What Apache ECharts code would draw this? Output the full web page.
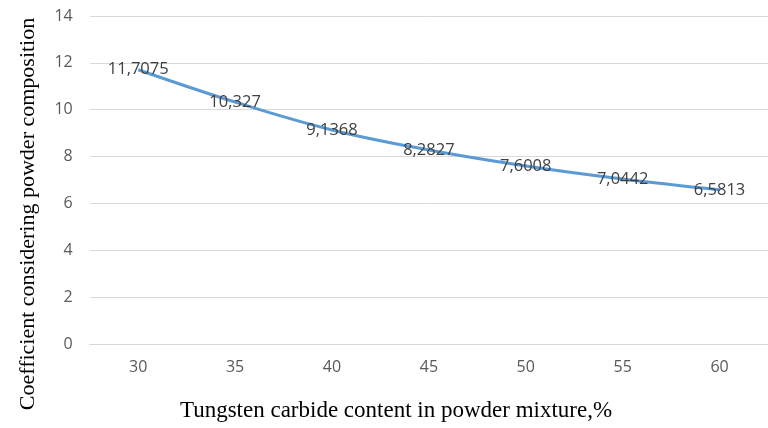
<!DOCTYPE html>
<html>
<head>
<meta charset="utf-8">
<script src="https://cdn.jsdelivr.net/npm/echarts@6/dist/echarts.min.js"></script>
<style>html,body{margin:0;padding:0;background:#fff}#c{width:768px;height:428px}</style>
</head>
<body>
<div id="c"></div>
<script>
var categories = ['30', '35', '40', '45', '50', '55', '60'];
var coefficient = [11.7075, 10.327, 9.1368, 8.2827, 7.6008, 7.0442, 6.5813];
var yTicks = { min: 0, max: 14, interval: 2 };
var xTitle = 'Tungsten carbide content in powder mixture,%';
var yTitle = 'Coefficient considering powder composition';

var chart = echarts.init(document.getElementById('c'), null, { renderer: 'canvas' });
chart.setOption({
  animation: false,
  backgroundColor: '#fff',
  grid: { left: 89.75, right: -11, top: 16, bottom: 84, containLabel: false },
  xAxis: {
    type: 'category',
    data: categories,
    boundaryGap: true,
    axisLine: { show: true, lineStyle: { color: '#d9d9d9', width: 1 } },
    axisTick: { show: false },
    axisLabel: { color: '#595959', fontSize: 16, fontFamily: 'Open Sans', margin: 15 }
  },
  yAxis: {
    type: 'value',
    min: yTicks.min, max: yTicks.max, interval: yTicks.interval,
    axisLine: { show: false },
    axisTick: { show: false },
    splitLine: { lineStyle: { color: '#d9d9d9', width: 1 } },
    axisLabel: { color: '#595959', fontSize: 16, fontFamily: 'Open Sans', margin: 17 }
  },
  series: [{
    type: 'line',
    data: coefficient,
    smooth: 0.4,
    showSymbol: true,
    symbol: 'circle',
    symbolSize: 2,
    itemStyle: { color: 'rgba(91,155,213,0)', borderWidth: 0 },
    lineStyle: { color: '#5B9BD5', width: 3 },
    label: {
      show: true,
      position: 'inside',
      offset: [-1, 2],
      color: '#404040',
      fontSize: 16.5,
      fontFamily: 'Open Sans',
      formatter: function (p) { return String(p.value).replace('.', ','); }
    },
    labelLayout: { hideOverlap: false },
    z: 2
  }],
  graphic: [
    {
      type: 'text',
      x: 396, y: 411,
      style: { text: xTitle, fontSize: 23, fontFamily: 'Liberation Serif', fill: '#000', align: 'center', verticalAlign: 'middle' }
    },
    {
      type: 'text',
      rotation: Math.PI / 2,
      x: 28, y: 214,
      style: { text: yTitle, fontSize: 22, fontFamily: 'Liberation Serif', fill: '#000', align: 'center', verticalAlign: 'middle' }
    }
  ]
});
</script>
</body>
</html>
